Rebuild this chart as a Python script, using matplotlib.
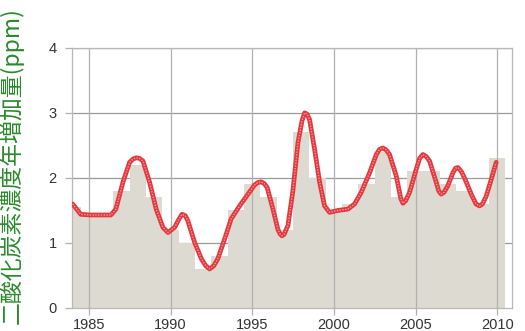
import numpy as np
import matplotlib
matplotlib.use('Agg')
import matplotlib.pyplot as plt

# annual increase of CO2 concentration (bars)
years = list(range(1984, 2011))
increase = [1.55, 1.45, 1.4, 1.8, 2.2, 1.7, 1.2, 1.0, 0.6, 0.8, 1.5, 1.9, 1.7,
            1.2, 2.7, 2.0, 1.5, 1.6, 1.9, 2.4, 1.7, 2.1, 2.1, 1.9, 1.8, 1.6, 2.31]

# smoothed curve
curve_x = [1984.0, 1984.5, 1985.1, 1986.35, 1986.65, 1987.08, 1987.49, 1987.7, 1987.9,
           1988.1, 1988.31, 1988.72, 1989.12, 1989.53, 1989.84, 1990.25, 1990.5, 1990.7,
           1990.9, 1991.06, 1991.47, 1991.88, 1992.15, 1992.39, 1992.65, 1992.9,
           1993.31, 1993.71, 1994.23, 1994.74, 1995.14, 1995.35, 1995.55, 1995.75,
           1995.92, 1996.27, 1996.57, 1996.7, 1996.82, 1996.95, 1997.19, 1997.49,
           1997.8, 1998.05, 1998.21, 1998.36, 1998.51, 1998.82, 1999.13, 1999.43,
           1999.74, 2000.25, 2000.86, 2001.27, 2001.68, 2002.19, 2002.6, 2002.8,
           2003.0, 2003.2, 2003.41, 2003.82, 2004.1, 2004.23, 2004.4, 2004.64,
           2005.04, 2005.25, 2005.45, 2005.65, 2005.86, 2006.27, 2006.42, 2006.57,
           2006.75, 2006.98, 2007.29, 2007.45, 2007.6, 2007.8, 2008.0, 2008.41,
           2008.7, 2008.92, 2009.1, 2009.33, 2009.64, 2009.94]
curve_y = [1.6, 1.44, 1.43, 1.43, 1.52, 1.93, 2.24, 2.29, 2.31,
           2.3, 2.26, 1.93, 1.52, 1.24, 1.16, 1.24, 1.36, 1.44,
           1.42, 1.34, 1.01, 0.76, 0.65, 0.6, 0.65, 0.76,
           1.06, 1.37, 1.57, 1.75, 1.89, 1.93, 1.94, 1.91,
           1.85, 1.52, 1.21, 1.14, 1.11, 1.13, 1.27, 1.8,
           2.54, 2.88, 3.0, 2.98, 2.9, 2.44, 1.93, 1.57,
           1.47, 1.5, 1.52, 1.6, 1.78, 2.08, 2.36, 2.44,
           2.46, 2.43, 2.36, 2.03, 1.68, 1.61, 1.65, 1.78,
           2.13, 2.3, 2.36, 2.33, 2.26, 1.93, 1.8, 1.75,
           1.78, 1.88, 2.08, 2.15, 2.16, 2.1, 2.0, 1.75,
           1.6, 1.57, 1.6, 1.72, 1.98, 2.24]

xticks = [1985, 1990, 1995, 2000, 2005, 2010]
yticks = [0, 1, 2, 3, 4]

fig = plt.figure(figsize=(5.25, 3.31), dpi=100)
ax = fig.add_axes([0.137, 0.0695, 0.838, 0.786])

for y in yticks[1:]:
    ax.axhline(y, color='#9a9a9a', linewidth=0.9, zorder=0)
ax.bar(years, increase, width=1.0, color='#dddbd1', edgecolor='none', zorder=1)
for x in xticks:
    ax.axvline(x, color='#b0b0b0', linewidth=0.9, zorder=2)

ax.plot(curve_x, curve_y, color='#e3383d', linewidth=3.4, solid_capstyle='round',
        solid_joinstyle='round', zorder=3)
ax.plot(curve_x, curve_y, color='#f19a9b', linewidth=1.0, linestyle=(0, (1, 1)),
        zorder=4)

ax.set_xlim(1983.96, 2010.9)
ax.set_ylim(0, 4)
ax.set_xticks(xticks)
ax.set_yticks(yticks)
for s in ax.spines.values():
    s.set_color('#b8b8b8')
    s.set_linewidth(0.9)
ax.tick_params(colors='#b0b0b0', length=5, width=0.9, labelcolor='#333333',
               labelsize=10.5)
for lab in ax.get_xticklabels() + ax.get_yticklabels():
    lab.set_family('Liberation Sans')
ax.tick_params(axis='y', pad=6)
ax.tick_params(axis='x', pad=2)

fig.text(0.022, 0.5, '二酸化炭素濃度年増加量(ppm)', rotation=90, va='center', ha='center',
         color='#2a8a2a', fontsize=16.5, family=['Noto Sans CJK JP', 'DejaVu Sans'])

fig.savefig('out.png', dpi=100)
